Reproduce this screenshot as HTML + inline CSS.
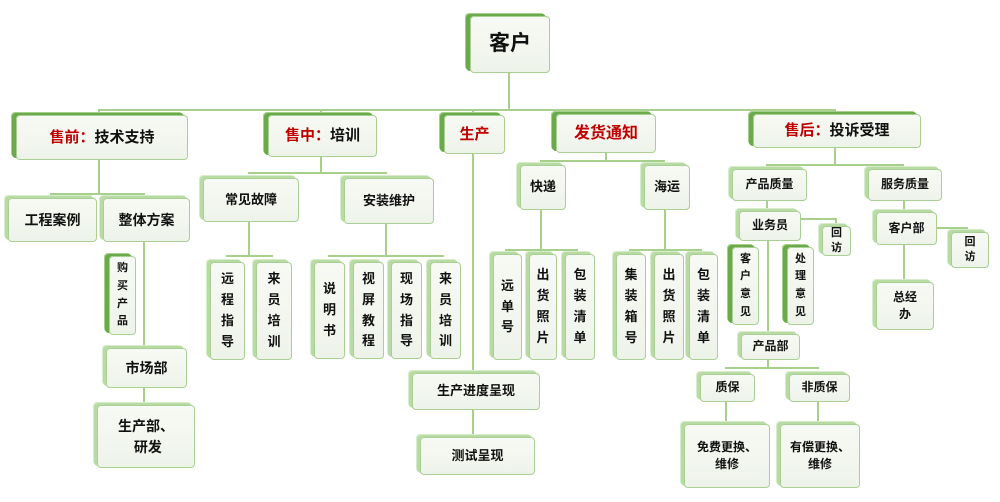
<!DOCTYPE html>
<html><head><meta charset="utf-8"><style>
body{margin:0;width:1000px;height:502px;background:#fff;position:relative;overflow:hidden;font-family:"Liberation Sans","Noto Sans CJK SC",sans-serif;}
.b{position:absolute;box-sizing:border-box;background:linear-gradient(#f7faf4,#eef3ea);border:1px solid #a9cf94;border-radius:4px;box-shadow:-3px -2px 0 #b8dba4,-4px -3px 0 #d6eccb;display:flex;align-items:center;justify-content:center;text-align:center;font-size:13px;font-weight:bold;color:#111;line-height:1.45;}
.d{box-shadow:-4px -2px 0 #6aaa4a,-5px -3px 0 #a5d08c;}
.v{line-height:1.6;}
.r{color:#c00000;}
.l{position:absolute;background:#a8d08d;}
</style></head><body>
<!-- lines -->
<div class="l" style="left:508px;top:72px;width:2px;height:38px"></div>
<div class="l" style="left:98px;top:109px;width:737px;height:2px"></div>
<div class="l" style="left:98px;top:109px;width:2px;height:6px"></div>
<div class="l" style="left:320px;top:109px;width:2px;height:6px"></div>
<div class="l" style="left:472px;top:109px;width:2px;height:262px"></div>
<div class="l" style="left:605px;top:109px;width:2px;height:6px"></div>
<div class="l" style="left:834px;top:109px;width:2px;height:6px"></div>
<!-- 售前 -->
<div class="l" style="left:98px;top:160px;width:2px;height:34px"></div>
<div class="l" style="left:50px;top:193px;width:95px;height:2px"></div>
<div class="l" style="left:143px;top:242px;width:2px;height:104px"></div>
<div class="l" style="left:143px;top:388px;width:2px;height:16px"></div>
<!-- 售中 -->
<div class="l" style="left:320px;top:157px;width:2px;height:16px"></div>
<div class="l" style="left:248px;top:172px;width:139px;height:2px"></div>
<div class="l" style="left:248px;top:222px;width:2px;height:34px"></div>
<div class="l" style="left:226px;top:255px;width:47px;height:2px"></div>
<div class="l" style="left:385px;top:224px;width:2px;height:32px"></div>
<div class="l" style="left:328px;top:255px;width:116px;height:2px"></div>
<!-- 生产 -->
<div class="l" style="left:472px;top:410px;width:2px;height:25px"></div>
<!-- 发货 -->
<div class="l" style="left:605px;top:153px;width:2px;height:8px"></div>
<div class="l" style="left:540px;top:160px;width:125px;height:2px"></div>
<div class="l" style="left:540px;top:210px;width:2px;height:40px"></div>
<div class="l" style="left:505px;top:249px;width:73px;height:2px"></div>
<div class="l" style="left:664px;top:210px;width:2px;height:40px"></div>
<div class="l" style="left:629px;top:249px;width:73px;height:2px"></div>
<!-- 售后 -->
<div class="l" style="left:834px;top:148px;width:2px;height:17px"></div>
<div class="l" style="left:766px;top:164px;width:138px;height:2px"></div>
<div class="l" style="left:766px;top:200px;width:2px;height:10px"></div>
<div class="l" style="left:767px;top:241px;width:2px;height:92px"></div>
<div class="l" style="left:801px;top:218px;width:35px;height:2px"></div>
<div class="l" style="left:835px;top:218px;width:2px;height:6px"></div>
<div class="l" style="left:767px;top:360px;width:2px;height:8px"></div>
<div class="l" style="left:725px;top:367px;width:94px;height:2px"></div>
<div class="l" style="left:725px;top:402px;width:2px;height:20px"></div>
<div class="l" style="left:817px;top:402px;width:2px;height:20px"></div>
<div class="l" style="left:903px;top:200px;width:2px;height:10px"></div>
<div class="l" style="left:903px;top:245px;width:2px;height:35px"></div>
<div class="l" style="left:937px;top:227px;width:30px;height:2px"></div>
<div class="l" style="left:966px;top:227px;width:2px;height:4px"></div>

<!-- boxes -->
<div class="b d" style="left:470px;top:16px;width:80px;height:57px;font-size:21px">客户</div>
<div class="b d" style="left:16px;top:115px;width:172px;height:45px;font-size:15px"><span class="r">售前：</span>技术支持</div>
<div class="b d" style="left:268px;top:115px;width:109px;height:42px;font-size:15px"><span class="r">售中：</span>培训</div>
<div class="b d" style="left:444px;top:115px;width:61px;height:39px;font-size:15px"><span class="r">生产</span></div>
<div class="b d" style="left:556px;top:114px;width:100px;height:39px;font-size:16px"><span class="r">发货通知</span></div>
<div class="b d" style="left:753px;top:114px;width:168px;height:34px;font-size:15px"><span class="r">售后：</span>投诉受理</div>

<div class="b" style="left:8px;top:198px;width:89px;height:44px;font-size:14px">工程案例</div>
<div class="b" style="left:103px;top:198px;width:87px;height:44px;font-size:14px">整体方案</div>
<div class="b d v" style="left:109px;top:256px;width:27px;height:79px;font-size:11px">购<br>买<br>产<br>品</div>
<div class="b" style="left:106px;top:348px;width:81px;height:40px;font-size:14px">市场部</div>
<div class="b" style="left:97px;top:405px;width:98px;height:63px;font-size:14px">生产部、<br>&nbsp;研发</div>

<div class="b" style="left:203px;top:178px;width:96px;height:44px">常见故障</div>
<div class="b" style="left:344px;top:178px;width:90px;height:46px">安装维护</div>
<div class="b v" style="left:210px;top:262px;width:35px;height:98px">远<br>程<br>指<br>导</div>
<div class="b v" style="left:256px;top:262px;width:36px;height:98px">来<br>员<br>培<br>训</div>
<div class="b v" style="left:314px;top:262px;width:31px;height:97px">说<br>明<br>书</div>
<div class="b v" style="left:353px;top:262px;width:31px;height:97px">视<br>屏<br>教<br>程</div>
<div class="b v" style="left:391px;top:262px;width:31px;height:97px">现<br>场<br>指<br>导</div>
<div class="b v" style="left:430px;top:262px;width:31px;height:97px">来<br>员<br>培<br>训</div>

<div class="b" style="left:412px;top:373px;width:128px;height:37px">生产进度呈现</div>
<div class="b" style="left:420px;top:437px;width:115px;height:38px">测试呈现</div>

<div class="b" style="left:520px;top:165px;width:46px;height:45px">快递</div>
<div class="b" style="left:644px;top:165px;width:46px;height:45px">海运</div>
<div class="b v" style="left:493px;top:254px;width:29px;height:106px">远<br>单<br>号</div>
<div class="b v" style="left:529px;top:254px;width:28px;height:106px">出<br>货<br>照<br>片</div>
<div class="b v" style="left:565px;top:254px;width:30px;height:106px">包<br>装<br>清<br>单</div>
<div class="b v" style="left:616px;top:254px;width:30px;height:106px">集<br>装<br>箱<br>号</div>
<div class="b v" style="left:654px;top:254px;width:30px;height:106px">出<br>货<br>照<br>片</div>
<div class="b v" style="left:689px;top:254px;width:29px;height:106px">包<br>装<br>清<br>单</div>

<div class="b" style="left:732px;top:169px;width:75px;height:32px;font-size:12px">产品质量</div>
<div class="b" style="left:868px;top:169px;width:74px;height:32px;font-size:12px">服务质量</div>
<div class="b" style="left:739px;top:211px;width:62px;height:30px;font-size:12px">业务员</div>
<div class="b v" style="left:822px;top:226px;width:29px;height:30px;font-size:11px;line-height:1.4">回<br>访</div>
<div class="b d v" style="left:732px;top:247px;width:27px;height:78px;font-size:11px">客<br>户<br>意<br>见</div>
<div class="b d v" style="left:787px;top:247px;width:27px;height:78px;font-size:11px">处<br>理<br>意<br>见</div>
<div class="b" style="left:741px;top:334px;width:59px;height:26px;font-size:12px">产品部</div>
<div class="b" style="left:700px;top:374px;width:55px;height:28px;font-size:12px">质保</div>
<div class="b" style="left:789px;top:374px;width:61px;height:28px;font-size:12px">非质保</div>
<div class="b" style="left:684px;top:424px;width:86px;height:64px;font-size:12px">免费更换、<br>维修</div>
<div class="b" style="left:780px;top:424px;width:80px;height:64px;font-size:12px">有偿更换、<br>维修</div>

<div class="b" style="left:876px;top:212px;width:61px;height:33px;font-size:12px">客户部</div>
<div class="b v" style="left:951px;top:232px;width:38px;height:36px;font-size:11px;line-height:1.4">回<br>访</div>
<div class="b" style="left:876px;top:282px;width:58px;height:48px;font-size:12px">总经<br>办</div>
</body></html>
